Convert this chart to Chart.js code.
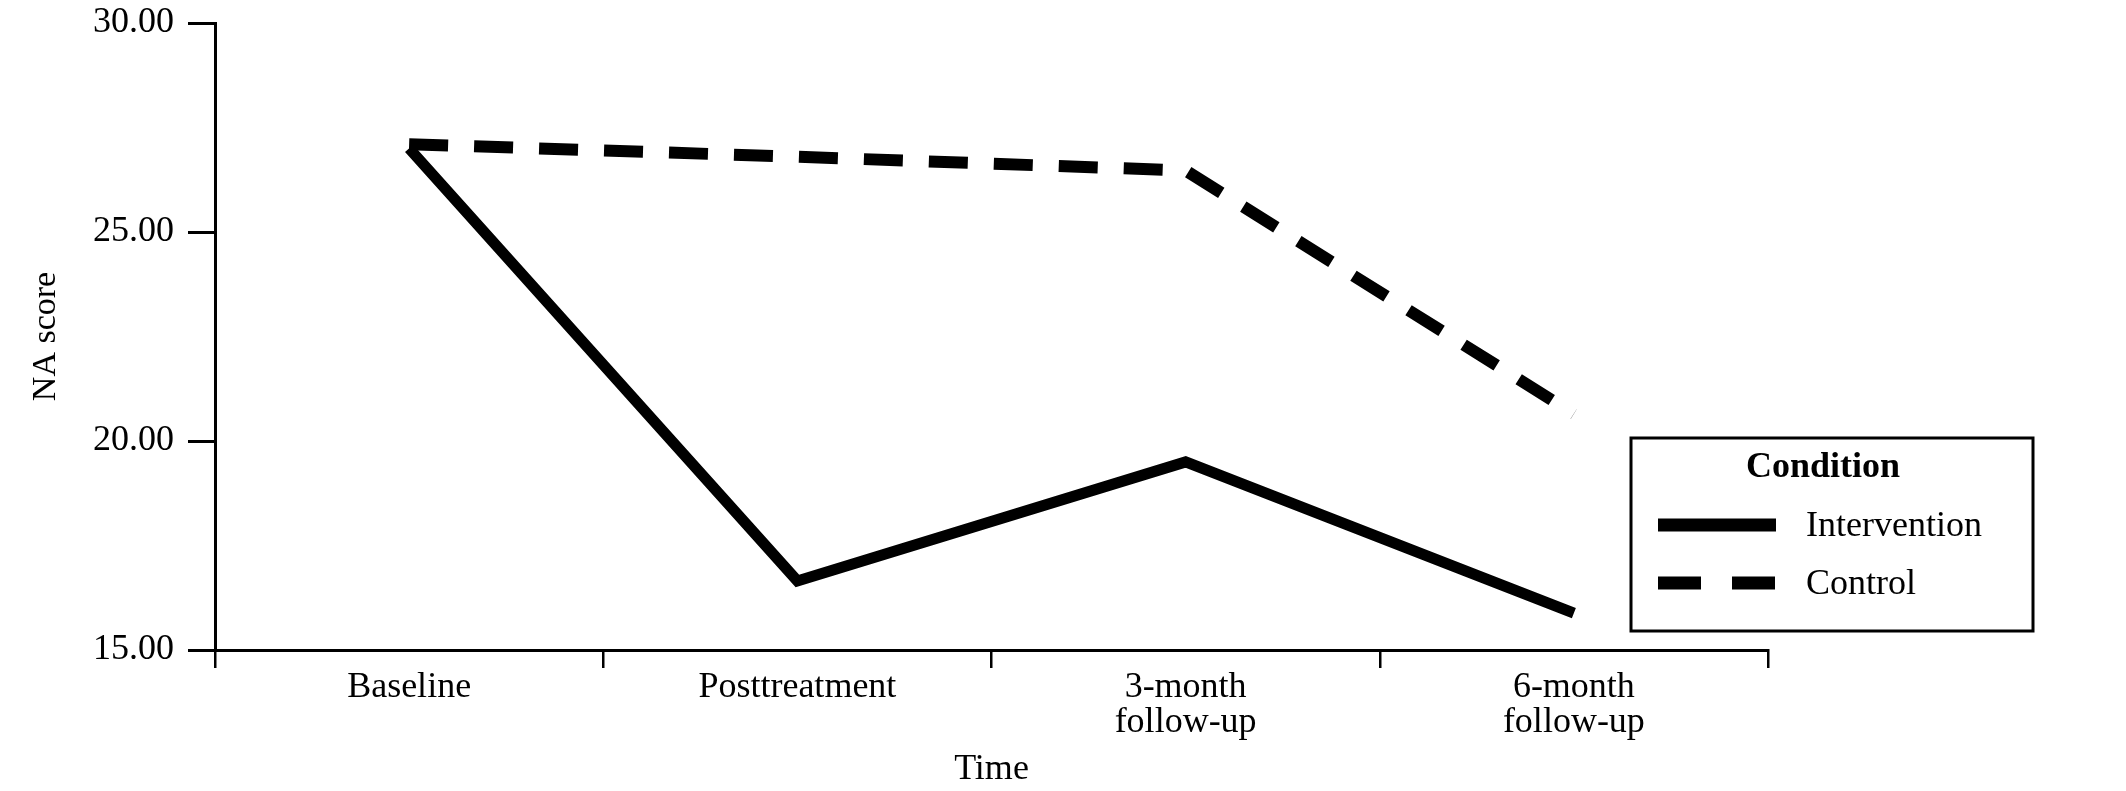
<!DOCTYPE html>
<html>
<head>
<meta charset="utf-8">
<script src="https://cdn.jsdelivr.net/npm/chart.js@4/dist/chart.umd.min.js"></script>
<style>
  body { margin: 0; background: #fff; }
</style>
</head>
<body>
<canvas id="naChart" width="2126" height="791"></canvas>
<script>
// Data
const timePoints = ["Baseline", "Posttreatment", ["3-month", "follow-up"], ["6-month", "follow-up"]];
const interventionScores = [27.0, 16.65, 19.5, 15.88];
const controlScores = [27.1, 26.8, 26.47, 20.65];
const yTicks = [15, 20, 25, 30];

const serif = "'Liberation Serif', 'Times New Roman', serif";

// Boxed legend drawn inside the plot, bottom right
const conditionLegend = {
  id: "conditionLegend",
  afterDraw(chart) {
    const ctx = chart.ctx;
    const box = { x: 1631, y: 438, w: 402, h: 193 };
    ctx.save();
    ctx.fillStyle = "#fff";
    ctx.fillRect(box.x, box.y, box.w, box.h);
    ctx.lineWidth = 3;
    ctx.strokeStyle = "#000";
    ctx.strokeRect(box.x, box.y, box.w, box.h);

    ctx.fillStyle = "#000";
    ctx.textBaseline = "middle";
    ctx.textAlign = "center";
    ctx.font = "bold 36px " + serif;
    ctx.fillText("Condition", 1823, 468);

    ctx.textAlign = "left";
    ctx.font = "36px " + serif;
    const rows = [525, 583];
    chart.data.datasets.forEach((ds, i) => {
      const y = rows[i];
      ctx.beginPath();
      ctx.lineWidth = 13;
      ctx.lineCap = "butt";
      ctx.setLineDash(ds.borderDash.length ? [43, 31] : []);
      ctx.moveTo(1658, y);
      ctx.lineTo(1776, y);
      ctx.stroke();
      ctx.setLineDash([]);
      ctx.fillText(ds.label, 1806, y + 2);
    });
    ctx.restore();
  },
};

new Chart(document.getElementById("naChart").getContext("2d"), {
  type: "line",
  data: {
    labels: timePoints,
    datasets: [
      {
        label: "Intervention",
        data: interventionScores,
        borderColor: "#000",
        borderWidth: 11,
        borderDash: [],
        pointRadius: 0,
        tension: 0,
      },
      {
        label: "Control",
        data: controlScores,
        borderColor: "#000",
        borderWidth: 12,
        borderDash: [39, 26],
        borderCapStyle: "butt",
        pointRadius: 0,
        tension: 0,
      },
    ],
  },
  options: {
    responsive: false,
    animation: false,
    devicePixelRatio: 1,
    layout: { padding: { left: 0, right: 358, top: 23, bottom: 0 } },
    plugins: {
      legend: { display: false },
      tooltip: { enabled: false },
    },
    scales: {
      x: {
        offset: true,
        afterFit(scale) {
          scale.height = 141;
          scale.paddingLeft = 0;
          scale.paddingRight = 0;
        },
        grid: {
          offset: true,
          drawOnChartArea: false,
          tickLength: 18,
          lineWidth: 2.5,
          color: "#000",
        },
        border: { display: true, color: "#000", width: 3 },
        ticks: {
          color: "#000",
          padding: 2,
          maxRotation: 0,
          font: { family: serif, size: 36, lineHeight: 0.98 },
        },
        title: {
          display: true,
          text: "Time",
          color: "#000",
          padding: { top: 0, bottom: 0 },
          font: { family: serif, size: 36 },
        },
      },
      y: {
        min: 15,
        max: 30,
        afterFit(scale) {
          scale.width = 215;
          scale.paddingTop = 0;
          scale.paddingBottom = 0;
        },
        afterBuildTicks(scale) {
          scale.ticks = yTicks.map((v) => ({ value: v }));
        },
        grid: {
          drawOnChartArea: false,
          tickLength: 27,
          lineWidth: 3,
          color: "#000",
        },
        border: { display: true, color: "#000", width: 3 },
        ticks: {
          color: "#000",
          padding: 14,
          font: { family: serif, size: 36 },
          callback: (v) => Number(v).toFixed(2),
        },
        title: {
          display: true,
          text: "NA score",
          color: "#000",
          padding: { top: 26, bottom: 0 },
          font: { family: serif, size: 34 },
        },
      },
    },
  },
  plugins: [conditionLegend],
});
</script>
</body>
</html>
